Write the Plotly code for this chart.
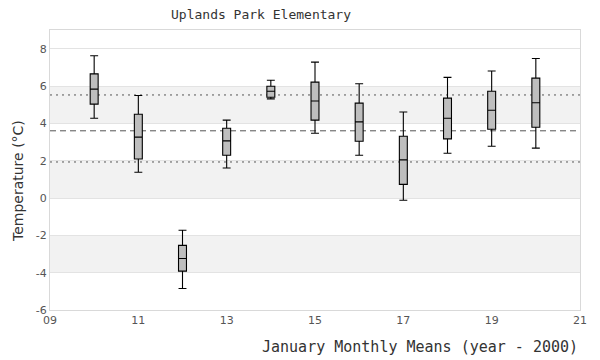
import plotly.graph_objects as go

years = [10, 11, 12, 13, 14, 15, 16, 17, 18, 19, 20]
upper = [7.62, 5.49, -1.73, 4.17, 6.31, 7.28, 6.12, 4.61, 6.46, 6.80, 7.47]
q3 = [6.65, 4.49, -2.54, 3.74, 5.99, 6.21, 5.08, 3.31, 5.35, 5.72, 6.42]
median = [5.83, 3.26, -3.24, 3.06, 5.72, 5.20, 4.08, 2.04, 4.27, 4.70, 5.10]
q1 = [5.03, 2.09, -3.92, 2.29, 5.40, 4.17, 3.04, 0.73, 3.17, 3.68, 3.79]
lower = [4.27, 1.38, -4.85, 1.61, 5.31, 3.47, 2.29, -0.12, 2.40, 2.77, 2.67]

mean_line = 3.6
sd_upper = 5.52
sd_lower = 1.93
bands = [(4, 6), (0, 2), (-4, -2)]

x_ticks = [9, 11, 13, 15, 17, 19, 21]
x_tick_text = ["09", "11", "13", "15", "17", "19", "21"]
y_ticks = [-6, -4, -2, 0, 2, 4, 6, 8]
y_tick_text = ["-6", "-4", "-2", "0", "2", "4", "6", "8"]

fig = go.Figure()
fig.add_trace(go.Box(
    x=years, q1=q1, median=median, q3=q3, lowerfence=lower, upperfence=upper,
    width=0.18, whiskerwidth=1,
    fillcolor="#bebebe", line=dict(color="black", width=1.1),
    boxpoints=False, hoverinfo="skip", showlegend=False,
))

shapes = []
for lo, hi in bands:
    shapes.append(dict(type="rect", xref="paper", yref="y", x0=0, x1=1, y0=lo, y1=hi,
                       fillcolor="#f2f2f2", line=dict(width=0), layer="below"))
for val, dash in [(mean_line, "6px,4px"), (sd_upper, "2px,4px"), (sd_lower, "2px,4px")]:
    shapes.append(dict(type="line", xref="paper", yref="y", x0=0, x1=1, y0=val, y1=val,
                       line=dict(color="#555555", width=1, dash=dash), layer="below"))

mono = "DejaVu Sans Mono"
fig.update_layout(
    width=600, height=360,
    margin=dict(l=50, r=20, t=30, b=50),
    plot_bgcolor="white", paper_bgcolor="white",
    shapes=shapes,
    xaxis=dict(range=[9, 21], tickvals=x_ticks, ticktext=x_tick_text,
               showgrid=False, zeroline=False, showline=True, linecolor="#d9d9d9",
               mirror=True, ticks="", tickfont=dict(family="DejaVu Sans", size=11, color="#555555")),
    yaxis=dict(range=[-6, 9], tickvals=y_ticks, ticktext=y_tick_text, showgrid=True,
               gridcolor="#e3e3e3", zeroline=False, showline=True, linecolor="#d9d9d9",
               mirror=True, ticks="", ticklen=0,
               tickfont=dict(family="DejaVu Sans", size=11, color="#555555")),
    annotations=[
        dict(text="Uplands Park Elementary", xref="paper", yref="paper",
             x=(261 - 50) / 530, y=1, yshift=16, xanchor="center", yanchor="middle",
             showarrow=False, font=dict(family=mono, size=13, color="#333333")),
        dict(text="January Monthly Means (year - 2000)", xref="paper", yref="paper",
             x=1, y=0, yshift=-37, xanchor="right", yanchor="middle", xshift=0,
             showarrow=False, font=dict(family=mono, size=15, color="#333333")),
        dict(text="Temperature (°C)", xref="paper", yref="paper", textangle=-90,
             x=0, xshift=-32, y=(310 - 181) / 280, xanchor="center", yanchor="middle",
             showarrow=False, font=dict(family="DejaVu Sans", size=14, color="#333333")),
    ],
)

fig.write_html("out.html", config={"displayModeBar": False},
               post_script="document.body.style.margin='0';document.body.style.overflow='hidden';")
